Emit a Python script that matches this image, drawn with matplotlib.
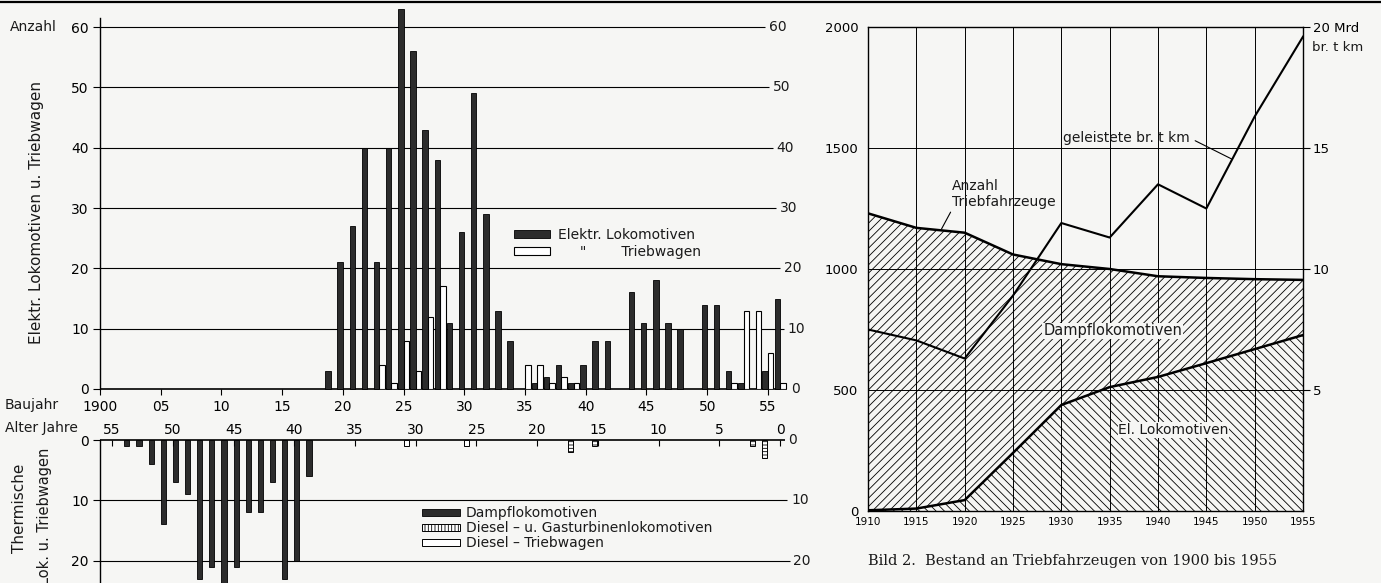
import matplotlib
matplotlib.use('Agg')
import matplotlib.pyplot as plt
from matplotlib.patches import Patch
from matplotlib.lines import Line2D

plt.rcParams['font.family'] = ['DejaVu Sans']
plt.rcParams['hatch.linewidth'] = 0.6
plt.rcParams['text.color'] = '#1a1a1a'

# --- links oben: elektrische Triebfahrzeuge nach Baujahr ---
el_jahre = [1919, 1920, 1921, 1922, 1923, 1924, 1925, 1926, 1927, 1928, 1929, 1930,
            1931, 1932, 1933, 1934, 1936, 1937, 1938, 1939, 1940, 1941, 1942, 1944,
            1945, 1946, 1947, 1948, 1950, 1951, 1952, 1953, 1955, 1956]
el_lok = [3, 21, 27, 40, 21, 40, 63, 56, 43, 38, 11, 26,
          49, 29, 13, 8, 1, 2, 4, 1, 4, 8, 8, 16,
          11, 18, 11, 10, 14, 14, 3, 1, 3, 15]
tw_jahre = [1923, 1924, 1925, 1926, 1927, 1928, 1935, 1936, 1937, 1938, 1939,
            1952, 1953, 1954, 1955, 1956]
el_tw = [4, 1, 8, 3, 12, 17, 4, 4, 1, 2, 1, 1, 13, 13, 6, 1]

# --- links unten: thermische Triebfahrzeuge ---
dampf_jahre = list(range(1902, 1918))
dampf = [1, 1, 4, 14, 7, 9, 23, 21, 24, 21, 12, 12, 7, 23, 20, 6]
diesel_lok_jahre = [1938, 1940, 1953, 1954]
diesel_lok = [2, 1, 1, 3]
diesel_tw_jahre = [1925, 1930]
diesel_tw = [1, 1]

baujahr_ticks = list(range(1900, 1956, 5))
baujahr_labels = ['1900', '05', '10', '15', '20', '25', '30', '35', '40', '45', '50', '55']
alter_ticks = list(range(55, -1, -5))

# --- rechts: Bestand 1910-1955 ---
jahre = [1910, 1915, 1920, 1925, 1930, 1935, 1940, 1945, 1950, 1955]
gesamt = [1230, 1170, 1150, 1060, 1020, 1000, 970, 963, 958, 955]
el_bestand = [3, 10, 45, 240, 438, 512, 554, 611, 669, 727]
tkm = [7.5, 7.05, 6.3, 8.9, 11.9, 11.3, 13.5, 12.5, 16.3, 19.6]   # Mrd br. t km

bg = '#f6f6f4'
dunkel = '#2c2c2c'
W, H = 1381, 583
fig = plt.figure(figsize=(W / 100, H / 100), dpi=100, facecolor=bg)


def box(l, t, r, b):
    return [l / W, 1 - b / H, (r - l) / W, (b - t) / H]


fig.add_artist(Line2D([0, 1], [1 - 1.5 / H] * 2, color='k', lw=1.6))

# ---------------- oben links ----------------
ax = fig.add_axes(box(100, 6, 791, 389))
ax.set_facecolor('none')
ax.set_xlim(1900, 1956.9)
ax.set_ylim(0, 63.5)
for s in ['top', 'right', 'bottom']:
    ax.spines[s].set_visible(False)
ax.spines['left'].set_bounds(0, 61.5)
ax.spines['left'].set_linewidth(1.0)
for v in range(0, 70, 10):
    x_end = 1956.6 - 0.03 * v   # Vorlage leicht schief gescannt
    ax.hlines(v, 1900, x_end, color='k', lw=1.2 if v == 0 else 0.8, clip_on=False, zorder=1)
    ax.text(x_end + 0.3, v, str(v), va='center', ha='left', fontsize=10)
ax.bar(el_jahre, el_lok, width=-0.45, align='edge', color=dunkel, edgecolor='k', lw=0.6, zorder=2, clip_on=False)
ax.bar(tw_jahre, el_tw, width=0.45, align='edge', facecolor='white', edgecolor='k', lw=0.8, zorder=2)
ax.set_xticks(baujahr_ticks, baujahr_labels)
ax.set_yticks(range(0, 70, 10))
ax.tick_params(axis='x', direction='out', length=4, pad=4, labelsize=10)
ax.tick_params(axis='y', direction='out', length=5, pad=3, labelsize=10)
ax.legend([Patch(facecolor=dunkel, edgecolor='k', lw=0.6), Patch(facecolor='white', edgecolor='k', lw=0.8)],
          ['Elektr. Lokomotiven', '     "        Triebwagen'],
          loc='upper left', bbox_to_anchor=(514 / W, 1 - 228 / H), bbox_transform=fig.transFigure,
          frameon=False, fontsize=10, handlelength=2.6, handleheight=0.55, handletextpad=0.55,
          labelspacing=0.2, borderpad=0, borderaxespad=0)

fig.text(10 / W, 1 - 27 / H, 'Anzahl', fontsize=10, va='center')
fig.text(5 / W, 1 - 405 / H, 'Baujahr', fontsize=10, va='center')
fig.text(5 / W, 1 - 428 / H, 'Alter Jahre', fontsize=10, va='center')
fig.text(37 / W, 1 - 212 / H, 'Elektr. Lokomotiven u. Triebwagen', rotation=90,
         fontsize=11, ha='center', va='center')
fig.text(20 / W, 1 - 508 / H, 'Thermische', rotation=90, fontsize=11, ha='center', va='center')
fig.text(45 / W, 1 - 516 / H, 'Lok. u. Triebwagen', rotation=90, fontsize=10.5, ha='center', va='center')

# ---------------- unten links ----------------
ax2 = fig.add_axes(box(100, 440, 791, 583))
ax2.set_facecolor('none')
ax2.set_xlim(1900, 1956.9)
ax2.set_ylim(23.7, 0)
for s in ['top', 'right', 'bottom']:
    ax2.spines[s].set_visible(False)
ax2.spines['left'].set_linewidth(1.0)
for v in range(0, 30, 10):
    x_end = 1956.4 + 0.02 * v
    ax2.hlines(v, 1900, x_end, color='k', lw=1.2 if v == 0 else 0.8, clip_on=False, zorder=1)
    ax2.text(x_end + 0.3, v, str(v), va='center', ha='left', fontsize=10)
ax2.bar(dampf_jahre, dampf, width=0.42, align='edge', color=dunkel, edgecolor='k', lw=0.6, zorder=2)
ax2.bar([j + 0.5 for j in diesel_lok_jahre], diesel_lok, width=0.42, align='edge',
        facecolor='white', edgecolor='k', hatch='-----', lw=0.7, zorder=2)
ax2.bar(diesel_tw_jahre, diesel_tw, width=0.42, align='edge', facecolor='white', edgecolor='k', lw=0.7, zorder=2)
ax2.set_xticks([1956 - a for a in alter_ticks], [str(a) for a in alter_ticks])
ax2.xaxis.set_ticks_position('top')
ax2.set_yticks([0, 10, 20])
ax2.tick_params(axis='x', direction='in', length=4, pad=2, labelsize=10)
ax2.tick_params(axis='y', direction='out', length=5, pad=3, labelsize=10)
ax2.legend([Patch(facecolor=dunkel, edgecolor='k', lw=0.6),
            Patch(facecolor='white', edgecolor='k', hatch='|||||', lw=0.7),
            Patch(facecolor='white', edgecolor='k', lw=0.7)],
           ['Dampflokomotiven', 'Diesel \u2013 u. Gasturbinenlokomotiven', 'Diesel \u2013 Triebwagen'],
           loc='upper left', bbox_to_anchor=(422 / W, 1 - 506 / H), bbox_transform=fig.transFigure,
           frameon=False, fontsize=10, handlelength=2.75, handleheight=0.4, handletextpad=0.4,
           labelspacing=0.08, borderpad=0, borderaxespad=0)

# ---------------- rechts ----------------
axr = fig.add_axes(box(868, 27, 1303, 511))
axr.set_facecolor('none')
axr.set_xlim(1910, 1955)
axr.set_ylim(0, 2000)
axr.fill_between(jahre, 0, el_bestand, facecolor='none', edgecolor='k', hatch='\\\\\\\\', lw=0)
axr.fill_between(jahre, el_bestand, gesamt, facecolor='none', edgecolor='k', hatch='////', lw=0)
axr.plot(jahre, gesamt, color='k', lw=1.8, solid_joinstyle='round')
axr.plot(jahre, el_bestand, color='k', lw=1.8, solid_joinstyle='round')
axr.set_xticks(jahre)
axr.set_yticks(range(0, 2001, 500))
axr.grid(True, color='k', lw=0.7)
axr.set_axisbelow(True)
axr.tick_params(axis='x', length=0, pad=4, labelsize=7.5)
axr.tick_params(axis='y', length=0, pad=7, labelsize=9.5)
for s in axr.spines.values():
    s.set_linewidth(1.0)

axt = axr.twinx()
axt.set_ylim(0, 20)
axt.plot(jahre, tkm, color='k', lw=1.5)
axt.set_yticks([5, 10, 15, 20], ['5', '10', '15', '20 Mrd'])
axt.tick_params(axis='y', direction='out', length=5, pad=2, labelsize=9.5)
for s in axt.spines.values():
    s.set_visible(False)
axt.text(1.021, 0.958, 'br. t km', transform=axt.transAxes, fontsize=9.5, va='center', ha='left')

axr.annotate('Anzahl\nTriebfahrzeuge', xy=(1917.6, 1165), xytext=(1918.7, 1310),
             ha='left', va='center', fontsize=10, linespacing=1.25,
             arrowprops=dict(arrowstyle='-', lw=0.8, color='k', relpos=(0, 0), shrinkA=0, shrinkB=0))
axr.annotate('geleistete br. t km', xy=(1947.6, 1455), xytext=(1943.3, 1541),
             ha='right', va='center', fontsize=10,
             arrowprops=dict(arrowstyle='-', lw=0.8, color='k', relpos=(1, 0.5), shrinkA=2, shrinkB=0))
axr.text(1935.3, 744, 'Dampflokomotiven', ha='center', va='center', fontsize=10.5,
         bbox=dict(facecolor=bg, edgecolor='none', pad=0.5))
axr.text(1941.6, 335, 'El. Lokomotiven', ha='center', va='center', fontsize=10,
         bbox=dict(facecolor=bg, edgecolor='none', pad=0.5))

fig.text(868 / W, 1 - 561 / H, 'Bild 2.  Bestand an Triebfahrzeugen von 1900 bis 1955',
         family='DejaVu Serif', fontsize=10.5, va='center')

fig.savefig('out.png', dpi=100, facecolor=bg)
